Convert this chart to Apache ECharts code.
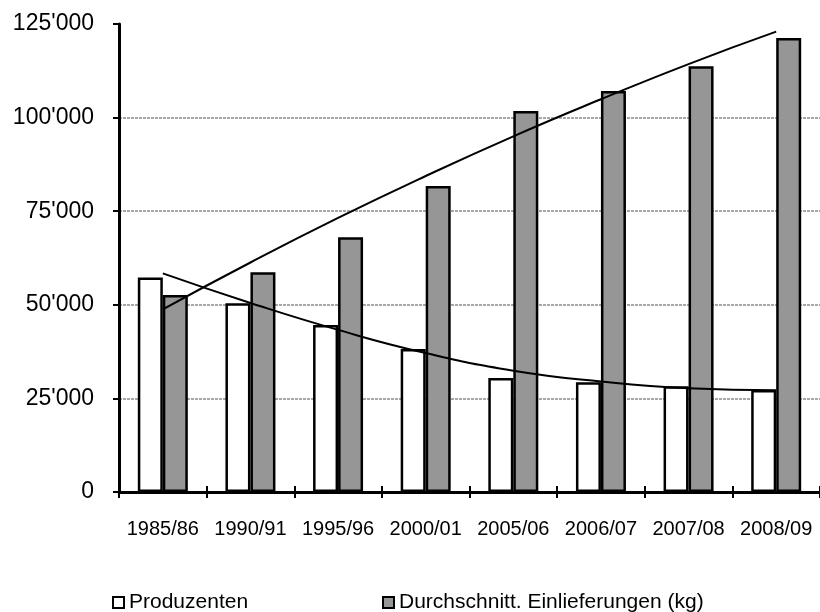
<!DOCTYPE html>
<html>
<head>
<meta charset="utf-8">
<script src="https://cdn.jsdelivr.net/npm/echarts@6/dist/echarts.min.js"></script>
<style>html,body{margin:0;padding:0;background:#fff}#c{width:820px;height:612px}</style>
</head>
<body>
<div id="c"></div>
<script>
const categories = ['1985/86','1990/91','1995/96','2000/01','2005/06','2006/07','2007/08','2008/09'];
const produzenten = [57300, 50400, 44600, 38200, 30450, 29300, 28230, 27240];
const einlieferungen = [52600, 58680, 68050, 81730, 101760, 107100, 113700, 121260];
const trendProduzenten = [58400, 50500, 43300, 37100, 32400, 29500, 27700, 27150];
const trendEinlieferungen = [48800, 61300, 73200, 84400, 95000, 104900, 114300, 122950];
const yTicks = [0, 25000, 50000, 75000, 100000, 125000];

const fmt = v => String(v).replace(/\B(?=(\d{3})+(?!\d))/g, "'");
const font = 'Liberation Sans, Arial, sans-serif';
const chart = echarts.init(document.getElementById('c'), null, {renderer: 'canvas'});
chart.setOption({
  animation: false,
  backgroundColor: '#ffffff',
  grid: {left: 119, top: 24, width: 705, height: 468, containLabel: false},
  legend: [
    {data: ['Produzenten'], left: 107, top: 587, itemWidth: 11, itemHeight: 11,
     icon: 'rect', textStyle: {fontFamily: font, fontSize: 21, color: '#000'}},
    {data: ['Durchschnitt. Einlieferungen (kg)'], left: 377, top: 587, itemWidth: 11, itemHeight: 11,
     icon: 'rect', textStyle: {fontFamily: font, fontSize: 21, color: '#000'}}
  ],
  xAxis: [
    {type: 'category', data: categories, boundaryGap: true,
     axisLine: {lineStyle: {color: '#000', width: 3}},
     axisTick: {show: true, length: 6, interval: 0, lineStyle: {color: '#000', width: 2}},
     axisLabel: {fontFamily: font, fontSize: 20, color: '#000', margin: 27, interval: 0}},
    {type: 'category', data: categories, boundaryGap: true, position: 'bottom',
     axisLine: {show: false},
     axisTick: {show: true, inside: true, length: 6, interval: 0, lineStyle: {color: '#000', width: 2}},
     axisLabel: {show: false}}
  ],
  yAxis: {
    type: 'value', min: 0, max: 125000, interval: 25000,
    axisLine: {show: true, lineStyle: {color: '#000', width: 3}},
    axisTick: {show: true, length: 6, lineStyle: {color: '#000', width: 2}},
    axisLabel: {fontFamily: font, fontSize: 23, color: '#000', margin: 25,
      formatter: v => yTicks.includes(v) ? fmt(v) : ''},
    splitLine: {show: true, showMaxLine: false, lineStyle: {color: '#8a8a8a', width: 1.5, type: [3, 1]}}
  },
  series: [
    {name: 'Produzenten', type: 'bar', data: produzenten, barWidth: 25, barGap: '0%',
     itemStyle: {color: '#ffffff', borderColor: '#000', borderWidth: 2.5}, z: 2},
    {name: 'Durchschnitt. Einlieferungen (kg)', type: 'bar', data: einlieferungen, barWidth: 25, barGap: '0%',
     itemStyle: {color: '#969696', borderColor: '#000', borderWidth: 2.5}, z: 2},
    {name: 'TrendP', type: 'line', data: trendProduzenten, smooth: true, showSymbol: false,
     lineStyle: {color: '#000', width: 2}, z: 5},
    {name: 'TrendE', type: 'line', data: trendEinlieferungen, smooth: true, showSymbol: false,
     lineStyle: {color: '#000', width: 2}, z: 5}
  ]
});
</script>
</body>
</html>
